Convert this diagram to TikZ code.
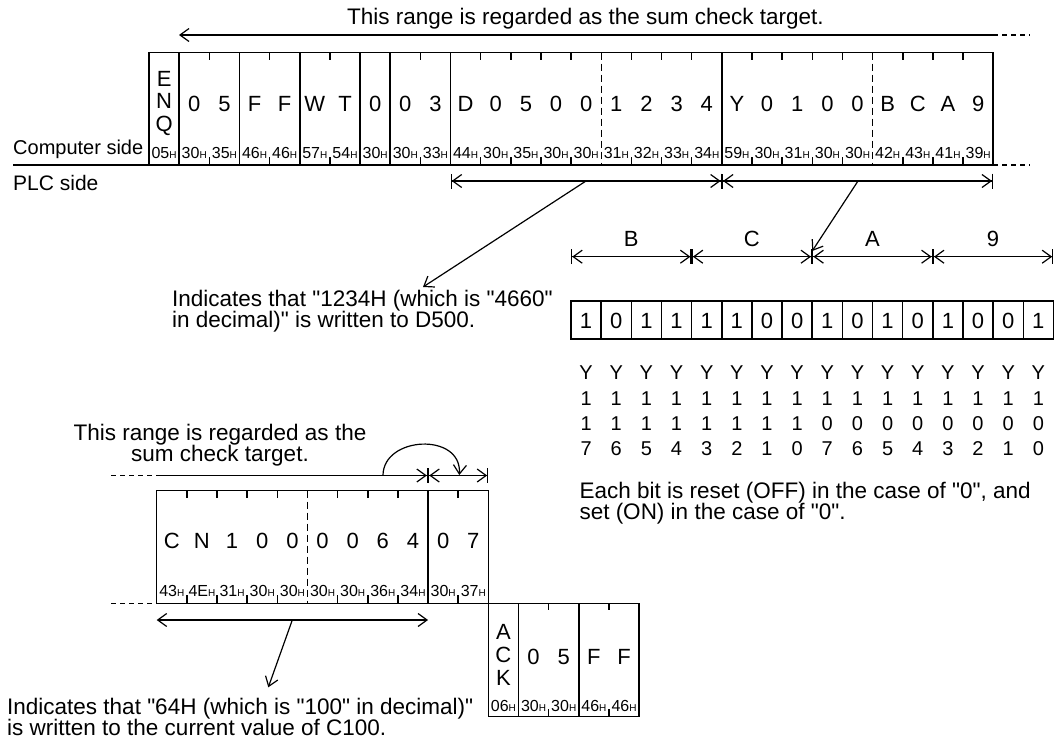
\documentclass[tikz,border=0pt]{standalone}
\usepackage{fontspec}
\setmainfont{Liberation Sans}[Ligatures=TeXOff]
\usepackage{tikz}
\usetikzlibrary{calc,arrows.meta}
\usetikzlibrary{positioning}
\definecolor{fr-text}{HTML}{000000}

% rotulo hexadecimal com o H reduzido
\newcommand{\hx}[1]{#1{\fontsize{10}{10}\selectfont H}}

\begin{document}
\begin{tikzpicture}[x=1pt, y=-1pt, >={Straight Barb[length=9pt,width=13pt]},
    frm/.style={line width=1.5pt, fr-text},
    dsh/.style={line width=1.5pt, fr-text, dash pattern=on 7pt off 4pt},
    dotln/.style={line width=1.4pt, fr-text, dash pattern=on 5pt off 4pt},
    arrln/.style={line width=1.2pt, fr-text},
    dimln/.style={line width=1.2pt, fr-text, arrows={Bar[width=15pt]Straight Barb[length=9pt,width=13pt]}-{Straight Barb[length=9pt,width=13pt]Bar[width=15pt]}},
    chr/.style={inner sep=0pt, fr-text, font=\fontsize{22}{22}\selectfont, text height=16pt, text depth=0pt},
    vchr/.style={inner sep=0pt, fr-text, font=\fontsize{22}{22.6}\selectfont, align=center},
    hexl/.style={inner sep=0pt, fr-text, font=\fontsize{16}{16}\selectfont, text height=11.5pt, text depth=0pt},
    ylab/.style={inner sep=0pt, fr-text, font=\fontsize{20}{20}\selectfont, text height=14.3pt, text depth=0pt},
    txt/.style={inner sep=0pt, fr-text, font=\fontsize{22.5}{21}\selectfont, align=left}]

    \useasboundingbox (0,0) rectangle (1058,742);

    % --- QUADRO SUPERIOR (lado do computador) ---
    \draw[frm] (149,52.7) rectangle (993.2,165);
    \foreach \i in {1,3,5,7,8,10,19}
        \draw[frm] ({149+30.15*\i},52.7) -- ({149+30.15*\i},165);
    \foreach \i in {15,24}
        \draw[dsh] ({149+30.15*\i},52.7) -- ({149+30.15*\i},165);
    \foreach \i in {2,4,6,9,11,12,13,14,16,17,18,20,21,22,23,25,26,27} {
        \draw[frm] ({149+30.15*\i},52.7) -- ++(0,7);
        \draw[frm] ({149+30.15*\i},165) -- ++(0,-8);
    }
    \node[vchr] (enq) at (164.1,103.4) {E\\N\\Q};
    \foreach \c [count=\i] in {0,5,F,F,W,T,0,0,3,D,0,5,0,0,1,2,3,4,Y,0,1,0,0,B,C,A,9}
        \node[chr] (tc\i) at ({149+30.15*(\i+0.5)},103) {\c};
    \foreach \h [count=\i from 0] in {05,30,35,46,46,57,54,30,30,33,44,30,35,30,30,31,32,33,34,59,30,31,30,30,42,43,41,39}
        \node[hexl] (th\i) at ({149+30.15*(\i+0.5)},153) {\hx{\h}};

    % linha que separa computador e PLC
    \coordinate (sepL) at (13,165);
    \coordinate (sepA) at (149,165);
    \coordinate (sepB) at (993.2,165);
    \coordinate (sepR) at (1030,165);
    \draw[frm] (sepL) -- (sepA);
    \draw[dotln] (sepB) -- (sepR);
    \node[txt, anchor=base west, font=\fontsize{20}{20}\selectfont] (pc) at (13,154) {Computer side};
    \node[txt, anchor=base west, font=\fontsize{21}{21}\selectfont] (plc) at (13,190) {PLC side};

    % faixa da soma de verificacao (topo)
    \node[txt, anchor=base west] (title) at (347,24) {This range is regarded as the sum check target.};
    \coordinate (rngL) at (179,35);
    \coordinate (rngR) at (993.2,35);
    \coordinate (rngE) at (1030,35);
    \draw[arrln, <-] (rngL) -- (rngR);
    \draw[dotln] (rngR) -- (rngE);

    % --- COTAS SOB O QUADRO SUPERIOR ---
    \coordinate (dA) at (450.5,181);
    \coordinate (dB) at (721.85,181);
    \coordinate (dC) at (993.2,181);
    \draw[dimln] (dA) -- (dB);
    \draw[dimln] (dB) -- (dC);
    \coordinate (dS) at (586,181);
    \coordinate (dT) at (423,287);
    \draw[arrln, ->] (dS) -- (dT);
    \node[txt, anchor=north west] (d500) at (172,289.6) {Indicates that "1234H (which is "4660"\\in decimal)" is written to D500.};

    % --- BITS DE Y100 ---
    \foreach \l [count=\i from 0] in {B,C,A,9} {
        \coordinate (g\i) at ({571+120.6*\i},256.7);
        \node[chr] (gl\i) at ({571+120.6*(\i+0.5)},238) {\l};
    }
    \coordinate (g4) at (1053.4,256.7);
    \draw[dimln] (g0) -- (g1);
    \draw[dimln] (g1) -- (g2);
    \draw[dimln] (g2) -- (g3);
    \draw[dimln] (g3) -- (g4);
    \coordinate (yS) at (858,181);
    \coordinate (yT) at (812.2,251);
    \draw[arrln, ->] (yS) -- (yT);

    \draw[frm] (571,301) rectangle (1053.4,339);
    \foreach \i in {1,...,15}
        \draw[frm] ({571+30.15*\i},301) -- ({571+30.15*\i},339);
    \foreach \b [count=\i from 0] in {1,0,1,1,1,1,0,0,1,0,1,0,1,0,0,1}
        \node[chr] (b\i) at ({571+30.15*(\i+0.5)},320) {\b};
    \foreach \r/\n [count=\i from 0] in {1/7,1/6,1/5,1/4,1/3,1/2,1/1,1/0,0/7,0/6,0/5,0/4,0/3,0/2,0/1,0/0} {
        \node[ylab] (ya\i) at ({586.1+30.15*\i},372) {Y};
        \node[ylab] (yb\i) at ({586.1+30.15*\i},398) {1};
        \node[ylab] (yc\i) at ({586.1+30.15*\i},423) {\r};
        \node[ylab] (yd\i) at ({586.1+30.15*\i},448) {\n};
    }
    \node[txt, anchor=north west] (note) at (579.3,481.6) {Each bit is reset (OFF) in the case of "0", and\\set (ON) in the case of "0".};

    % --- QUADRO INFERIOR (resposta C100) ---
    \node[txt, anchor=north, align=center] (sum) at (220,424.3) {This range is regarded as the\\sum check target.};
    \coordinate (sL) at (111,475.5);
    \coordinate (sA) at (156.7,475.5);
    \coordinate (sB) at (428.05,475.5);
    \coordinate (sC) at (488.35,475.5);
    \draw[dotln] (sL) -- (sA);
    \draw[arrln, arrows=-{Straight Barb[length=9pt,width=13pt]Bar[width=15pt]}] (sA) -- (sB);
    \draw[dimln] (sB) -- (sC);
    \coordinate (cS) at (383,475.5);
    \coordinate (cT) at (459.3,475);
    \draw[arrln, ->] (cS) .. controls (383,436) and (462,432) .. (cT);

    \draw[frm] (156.7,490.7) rectangle (488.35,603.3);
    \draw[frm] (428.05,490.7) -- (428.05,603.3);
    \draw[dsh] (307.45,490.7) -- (307.45,603.3);
    \foreach \i in {1,2,3,4,6,7,8,10} {
        \draw[frm] ({156.7+30.15*\i},490.7) -- ++(0,7);
        \draw[frm] ({156.7+30.15*\i},603.3) -- ++(0,-8);
    }
    \foreach \c [count=\i from 0] in {C,N,1,0,0,0,0,6,4,0,7}
        \node[chr] (cc\i) at ({156.7+30.15*(\i+0.5)},540) {\c};
    \foreach \h [count=\i from 0] in {43,4E,31,30,30,30,30,36,34,30,37}
        \node[hexl] (ch\i) at ({156.7+30.15*(\i+0.5)},590.5) {\hx{\h}};
    \coordinate (bL) at (111,603.3);
    \coordinate (bA) at (156.7,603.3);
    \draw[dotln] (bL) -- (bA);

    \coordinate (uA) at (156.7,620);
    \coordinate (uB) at (428.05,620);
    \draw[arrln, <->] (uA) -- (uB);
    \coordinate (uS) at (292.3,620);
    \coordinate (uT) at (268.3,687.3);
    \draw[arrln, ->] (uS) -- (uT);
    \node[txt, anchor=north west] (c100) at (7,697.6) {Indicates that "64H (which is "100" in decimal)"\\is written to the current value of C100.};

    % --- QUADRO ACK (lado do PLC) ---
    \draw[frm] (488.35,603.3) rectangle (639.1,716.7);
    \foreach \i in {1,3}
        \draw[frm] ({488.35+30.15*\i},603.3) -- ({488.35+30.15*\i},716.7);
    \foreach \i in {2,4} {
        \draw[frm] ({488.35+30.15*\i},603.3) -- ++(0,7);
        \draw[frm] ({488.35+30.15*\i},716.7) -- ++(0,-8);
    }
    \node[vchr] (ack) at (503.4,655) {A\\C\\K};
    \foreach \c [count=\i] in {0,5,F,F}
        \node[chr] (ac\i) at ({488.35+30.15*(\i+0.5)},656) {\c};
    \foreach \h [count=\i from 0] in {06,30,30,46,46}
        \node[hexl] (ah\i) at ({488.35+30.15*(\i+0.5)},705.5) {\hx{\h}};

\end{tikzpicture}
\end{document}
